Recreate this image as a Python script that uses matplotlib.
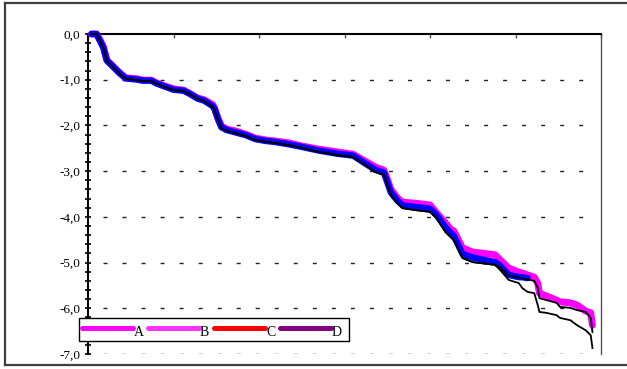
import matplotlib
matplotlib.use("Agg")
import matplotlib.pyplot as plt
from matplotlib.ticker import MultipleLocator, FuncFormatter, NullFormatter
from matplotlib.lines import Line2D
from matplotlib.patches import Rectangle

plt.rcParams["font.family"] = ["Liberation Serif", "DejaVu Serif"]

# shared time axis (days)
days = [2, 5, 7, 9, 11, 14, 18, 22, 29, 32, 37, 40, 45, 50, 56, 60, 64, 68, 73, 74,
        76, 78, 81, 86, 92, 98, 104, 109, 117, 125, 135, 146, 155, 162, 168, 173, 175, 177, 181, 184,
        191, 200, 204, 209, 212, 214, 219, 225, 238, 241, 246, 252, 254, 257, 261, 263, 264, 268, 274, 276,
        282, 286, 291, 294, 295]

# magenta series
series_a = [0.00, 0.00, -0.13, -0.28, -0.57, -0.68, -0.83, -0.96, -0.98, -1.01,
            -1.01, -1.07, -1.14, -1.20, -1.23, -1.31, -1.40, -1.44, -1.55, -1.62,
            -1.84, -2.01, -2.08, -2.12, -2.19, -2.28, -2.32, -2.34, -2.38, -2.45,
            -2.52, -2.58, -2.63, -2.78, -2.91, -2.98, -3.17, -3.39, -3.59, -3.68,
            -3.70, -3.74, -3.92, -4.13, -4.27, -4.31, -4.68, -4.77, -4.83, -4.94,
            -5.12, -5.21, -5.23, -5.27, -5.32, -5.45, -5.67, -5.73, -5.82, -5.86,
            -5.88, -5.93, -6.06, -6.10, -6.37]

# blue series (shorter record)
series_b = [0.00, 0.00, -0.15, -0.30, -0.58, -0.69, -0.84, -0.97, -1.00, -1.02,
            -1.02, -1.08, -1.15, -1.22, -1.24, -1.32, -1.41, -1.46, -1.58, -1.64,
            -1.86, -2.04, -2.10, -2.15, -2.21, -2.30, -2.34, -2.36, -2.41, -2.47,
            -2.55, -2.62, -2.66, -2.83, -2.97, -3.03, -3.24, -3.46, -3.65, -3.75,
            -3.78, -3.82, -3.97, -4.23, -4.35, -4.42, -4.81, -4.89, -4.99, -5.07,
            -5.27, -5.32, -5.32, -5.34]

# black series, upper
series_c = [0.00, 0.00, -0.15, -0.31, -0.59, -0.70, -0.85, -0.98, -1.01, -1.03,
            -1.03, -1.09, -1.16, -1.23, -1.25, -1.33, -1.42, -1.47, -1.60, -1.66,
            -1.88, -2.06, -2.12, -2.17, -2.23, -2.32, -2.36, -2.38, -2.43, -2.49,
            -2.58, -2.65, -2.69, -2.87, -3.02, -3.08, -3.30, -3.52, -3.70, -3.81,
            -3.85, -3.89, -4.03, -4.33, -4.44, -4.51, -4.90, -4.99, -5.05, -5.10,
            -5.28, -5.33, -5.35, -5.37, -5.40, -5.55, -5.78, -5.82, -5.88, -5.97,
            -5.99, -6.04, -6.08, -6.21, -6.52]

# black series, lower
series_d = [0.00, 0.00, -0.15, -0.31, -0.59, -0.70, -0.85, -0.98, -1.01, -1.03,
            -1.03, -1.09, -1.16, -1.23, -1.25, -1.33, -1.42, -1.47, -1.60, -1.66,
            -1.88, -2.06, -2.12, -2.17, -2.23, -2.32, -2.36, -2.38, -2.43, -2.49,
            -2.58, -2.65, -2.69, -2.87, -3.02, -3.08, -3.30, -3.52, -3.70, -3.81,
            -3.85, -3.89, -4.03, -4.33, -4.44, -4.51, -4.90, -4.99, -5.05, -5.16,
            -5.38, -5.45, -5.56, -5.64, -5.67, -5.93, -6.08, -6.10, -6.15, -6.21,
            -6.26, -6.37, -6.48, -6.59, -6.87]

legend_labels = ["A", "B", "C", "D"]
legend_colors = ["#ff00ff", "#ff33ff", "#ff0000", "#800080"]

y_ticks = [0, -1, -2, -3, -4, -5, -6, -7]

W, H = 627, 369
fig = plt.figure(figsize=(W / 100, H / 100), dpi=100)


def fx(px):
    return px / W


def fy(py):
    return 1 - py / H


ax = fig.add_axes([fx(88), fy(354), (601 - 88) / W, (354 - 34) / H])
ax.set_xlim(0, 300)
ax.set_ylim(-7, 0)

ax.plot(days, series_a, color="#ff00ff", lw=5.0, solid_capstyle="round",
        solid_joinstyle="round", zorder=3, clip_on=False)
ax.plot(days[:len(series_b)], series_b, color="#0000ff", lw=4.6, solid_capstyle="round",
        solid_joinstyle="round", zorder=4, clip_on=False)
ax.plot(days, series_c, color="black", lw=1.3, zorder=5, clip_on=False)
ax.plot(days, series_d, color="black", lw=1.3, zorder=5, clip_on=False)

# dashed reference lines
ax.hlines(y_ticks[1:], 0, 290, colors="#222222", lw=1.0,
          linestyles=[(2.9, (2.9, 10.8))], zorder=1)

# spines
for s in ("top", "left"):
    ax.spines[s].set_color("black")
    ax.spines[s].set_linewidth(1.5)
ax.spines["right"].set_color("#555555")
ax.spines["right"].set_linewidth(1.0)
ax.spines["bottom"].set_visible(False)

# y axis
ax.yaxis.set_major_locator(MultipleLocator(1.0))
ax.yaxis.set_minor_locator(MultipleLocator(0.2))
ax.yaxis.set_major_formatter(FuncFormatter(lambda v, p: f"{v:.1f}".replace(".", ",").replace("−", "-")))
ax.tick_params(axis="y", which="both", direction="inout", length=5, width=1.2,
               labelsize=9.5, pad=3, colors="black")

# x ticks along the top edge, unlabeled
ax.xaxis.set_ticks_position("top")
ax.xaxis.set_major_locator(MultipleLocator(50))
ax.xaxis.set_major_formatter(NullFormatter())
ax.tick_params(axis="x", which="both", direction="in", length=3, width=1.0, color="#555555")

# outer frame
for xs, ys in (((5, 627), (3, 3)), ((5, 5), (3, 365)), ((5, 627), (365, 365))):
    fig.add_artist(Line2D([fx(x) for x in xs], [fy(y) for y in ys],
                          color="#404040", lw=1.6, zorder=10))

# legend box
fig.add_artist(Rectangle((fx(79), fy(341)), (349 - 79) / W, (341 - 318) / H,
                         facecolor="white", edgecolor="black", lw=1.0, zorder=11))
start = 82
for lab, col in zip(legend_labels, legend_colors):
    fig.add_artist(Line2D([fx(start), fx(start + 51)], [fy(327.5), fy(327.5)],
                          color=col, lw=3.6, solid_capstyle="round", zorder=12))
    fig.text(fx(start + 52), fy(336), lab, fontsize=10, ha="left", va="baseline",
             zorder=12)
    start += 66

fig.savefig("out.png", dpi=100)
